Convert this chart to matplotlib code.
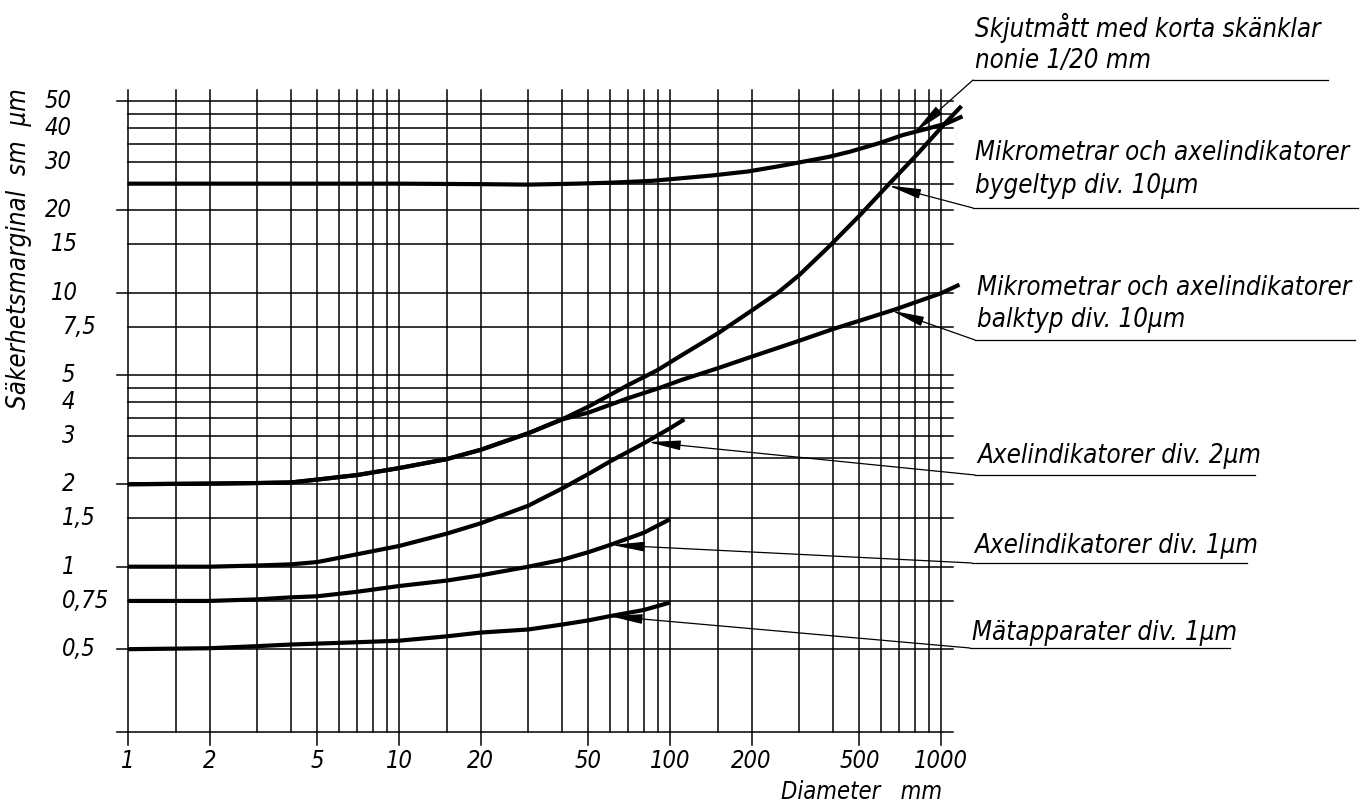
import matplotlib
matplotlib.use('Agg')
import matplotlib.pyplot as plt
from matplotlib.transforms import Affine2D, blended_transform_factory

W, H = 1363, 808

# grid values
x_grid = [1, 1.5, 2, 3, 4, 5, 6, 7, 8, 9, 10, 15, 20, 30, 40, 50, 60, 70, 80, 90,
          100, 150, 200, 300, 400, 500, 600, 700, 800, 900, 1000]
x_major = [1, 2, 5, 10, 20, 50, 100, 200, 500, 1000]
y_grid = [0.25, 0.5, 0.75, 1, 1.5, 2, 2.5, 3, 3.5, 4, 4.5, 5, 7.5, 10, 15, 20, 25,
          30, 35, 40, 45, 50]
y_major = [0.25, 0.5, 1, 2, 5, 10, 20, 50]
y_ticks = [50, 40, 30, 20, 15, 10, 7.5, 5, 4, 3, 2, 1.5, 1, 0.75, 0.5]
y_ticklabels = ['50', '40', '30', '20', '15', '10', '7,5', '5', '4', '3', '2',
                '1,5', '1', '0,75', '0,5']
x_ticklabels = ['1', '2', '5', '10', '20', '50', '100', '200', '500', '1000']

# curves
skjut_x = [1, 10, 20, 30, 45, 60, 86, 144, 194, 250, 290, 385, 461, 600, 722, 900, 1050, 1200]
skjut_y = [25, 25, 24.9, 24.8, 25, 25.2, 25.6, 26.8, 27.7, 28.9, 29.7, 31.3, 32.7, 35.3,
           37.6, 39.8, 41.5, 44.0]

bygel_x = [1, 2, 3, 4, 5, 7, 10, 15, 20, 30, 40, 50, 70, 90, 110, 150, 200, 250, 300,
           385, 500, 630, 800, 1035, 1190]
bygel_y = [2.0, 2.01, 2.02, 2.03, 2.08, 2.16, 2.29, 2.47, 2.67, 3.07, 3.45, 3.84, 4.6, 5.22,
           5.9, 7.1, 8.6, 10.0, 11.6, 14.7, 19.1, 24.4, 31.3, 41.5, 48.0]

balk_x = [1, 2, 3, 4, 5, 7, 10, 15, 20, 30, 40, 50, 70, 92, 110, 150, 200, 300, 400, 500,
          680, 1000, 1170]
balk_y = [2.0, 2.01, 2.02, 2.03, 2.08, 2.16, 2.29, 2.47, 2.67, 3.07, 3.45, 3.65, 4.12, 4.5,
          4.8, 5.3, 5.84, 6.68, 7.37, 7.9, 8.7, 9.95, 10.7]

axel2_x = [1, 2, 3, 4, 5, 7, 10, 15, 20, 30, 40, 50, 60, 80, 100, 113]
axel2_y = [1.0, 1.0, 1.01, 1.02, 1.04, 1.11, 1.19, 1.32, 1.44, 1.67, 1.93, 2.18, 2.42, 2.82,
           3.2, 3.45]

axel1_x = [1, 2, 3, 4, 5, 7, 10, 15, 20, 30, 40, 50, 60, 80, 100]
axel1_y = [0.75, 0.75, 0.76, 0.773, 0.78, 0.81, 0.85, 0.89, 0.93, 1.0, 1.06, 1.13, 1.2,
           1.33, 1.49]

mat_x = [1, 2, 3, 4, 5, 7, 10, 15, 20, 30, 40, 50, 60, 80, 100]
mat_y = [0.5, 0.504, 0.513, 0.52, 0.524, 0.53, 0.537, 0.557, 0.575, 0.59, 0.615, 0.637,
         0.66, 0.695, 0.74]

labels = [
    ['Skjutmått med korta skänklar', 'nonie 1/20 mm'],
    ['Mikrometrar och axelindikatorer', 'bygeltyp div. 10µm'],
    ['Mikrometrar och axelindikatorer', 'balktyp div. 10µm'],
    ['Axelindikatorer div. 2µm'],
    ['Axelindikatorer div. 1µm'],
    ['Mätapparater div. 1µm'],
]
tips = [(800, 38.6), (640, 24.6), (658, 8.6), (83, 2.85), (61, 1.2), (60, 0.66)]

plt.rcParams['font.family'] = ['DejaVu Sans']
font = dict(style='oblique', stretch='condensed', color='black')

fig = plt.figure(figsize=(W / 100, H / 100), dpi=100)
# pixel coordinates, origin top-left
px = Affine2D().scale(1 / W, -1 / H).translate(0, 1) + fig.transFigure

ax = fig.add_axes([100 / W, 1 - 760 / H, 900 / W, 700 / H])
ax.set_xscale('log')
ax.set_yscale('log')
ax.set_xlim(10 ** ((100 - 128) / 271), 10 ** ((1000 - 128) / 271))
ax.set_ylim(10 ** ((566.7 - 760) / 274), 10 ** ((566.7 - 60) / 274))
ax.axis('off')

x_right = 1107
y_top = 55
gl = dict(color='black', lw=1.1, zorder=1)
for xv in x_grid:
    lo = 0.2235 if xv in x_major else 0.25
    ax.plot([xv, xv], [lo, y_top], **gl)
for yv in y_grid:
    lo = 0.91 if yv in y_major else 1
    ax.plot([lo, x_right], [yv, yv], **gl)

curves = [(skjut_x, skjut_y), (bygel_x, bygel_y), (balk_x, balk_y),
          (axel2_x, axel2_y), (axel1_x, axel1_y), (mat_x, mat_y)]
for cx, cy in curves:
    ax.plot(cx, cy, color='black', lw=3.0, solid_capstyle='butt',
            solid_joinstyle='round', clip_on=False, zorder=3)

# tick labels
ytr = blended_transform_factory(fig.transFigure, ax.transData)
for v, t in zip(y_ticks, y_ticklabels):
    lx = 45 if v >= 20 else (51 if v >= 10 else 62)
    ax.text(lx / W, v, t, transform=ytr, ha='left', va='center', fontsize=17, **font)

xtr = blended_transform_factory(ax.transData, px)
for v, t in zip(x_major, x_ticklabels):
    ax.text(v, 761, t, transform=xtr, ha='center', va='center', fontsize=17, **font)

fig.text(862 / W, 1 - 792 / H, 'Diameter   mm', ha='center', va='center', fontsize=17, **font)
fig.text(19 / W, 1 - 249 / H, 'Säkerhetsmarginal  sm  µm', rotation=90, ha='center',
         va='center', fontsize=18.5, **font)

# labels with leader lines
label_pos = [(973, [37, 68], 80, 1328), (973, [160, 193], 208, 1358),
             (975, [295, 327], 340, 1355), (975, [463], 475, 1255),
             (972, [553], 563, 1247), (970, [640], 648, 1230)]
for lines, tip, (lx, bases, uy, ux2) in zip(labels, tips, label_pos):
    for s, by in zip(lines, bases):
        ax.text(lx + 2, by, s, transform=px, ha='left', va='baseline', fontsize=18.5, **font)
    ax.plot([lx, ux2], [uy, uy], color='black', lw=0.9, transform=px, clip_on=False)
    ax.annotate('', xy=tip, xycoords='data', xytext=(lx, uy), textcoords=px,
                arrowprops=dict(arrowstyle='-|>,head_length=2.0,head_width=0.3',
                                color='black', lw=0.9, shrinkA=0, shrinkB=0,
                                mutation_scale=10))

fig.savefig('out.png', dpi=100)
